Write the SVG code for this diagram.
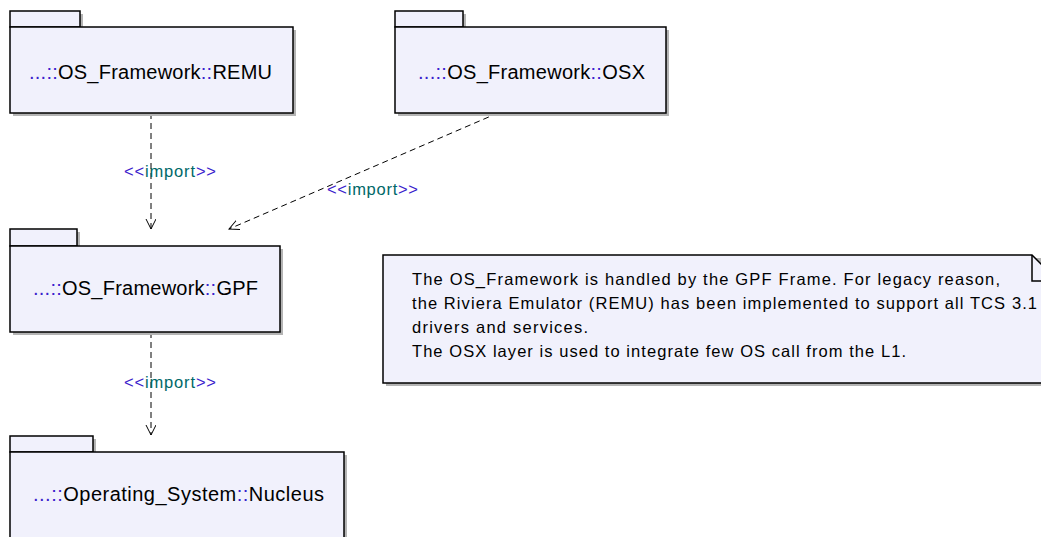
<svg xmlns="http://www.w3.org/2000/svg" width="1041" height="537" viewBox="0 0 1041 537">
<style>
.sh{fill:#b4b4b4;stroke:none}
.pk{fill:#f1f1fc;stroke:#000;stroke-width:1.5}
.lbl{font-family:"Liberation Sans",Arial,sans-serif;font-size:20px;fill:#000}
.q{fill:#3a22cc}
.imp{font-family:"Liberation Sans",Arial,sans-serif;font-size:16.5px;fill:#3a22cc}
.t{fill:#006868}
.note{font-family:"Liberation Sans",Arial,sans-serif;font-size:16.5px;fill:#000}
.dep{fill:none;stroke:#000;stroke-width:1;stroke-dasharray:6 4}
</style>
<defs>
<marker id="open" markerWidth="12" markerHeight="12" refX="10" refY="5" orient="auto" markerUnits="userSpaceOnUse" viewBox="0 0 12 12">
<path d="M0,0 L10,5 L0,10" fill="none" stroke="#000" stroke-width="1"/>
</marker>
</defs>
<rect width="1041" height="537" fill="#fff"/>
<g id="connectors">
<line class="dep" x1="151" y1="113" x2="151" y2="229" marker-end="url(#open)"/>
<text class="imp" x="124" y="177" textLength="92" lengthAdjust="spacing">&lt;&lt;<tspan class="t">import</tspan>&gt;&gt;</text>
<line class="dep" x1="498" y1="113" x2="229" y2="229" marker-end="url(#open)"/>
<text class="imp" x="327" y="195" textLength="91" lengthAdjust="spacing">&lt;&lt;<tspan class="t">import</tspan>&gt;&gt;</text>
<line class="dep" x1="151" y1="332" x2="151" y2="435" marker-end="url(#open)"/>
<text class="imp" x="124" y="388" textLength="92" lengthAdjust="spacing">&lt;&lt;<tspan class="t">import</tspan>&gt;&gt;</text>
</g>
<g id="remu">
<rect class="sh" x="13" y="14" width="70" height="16"/>
<rect class="sh" x="13" y="30" width="283" height="86"/>
<rect class="pk" x="10" y="11" width="70" height="16"/>
<rect class="pk" x="10" y="27" width="283" height="86"/>
<text class="lbl" x="29" y="79" textLength="243" lengthAdjust="spacing"><tspan class="q">...::</tspan>OS_Framework<tspan class="q">::</tspan>REMU</text>
</g>
<g id="osx">
<rect class="sh" x="398" y="14" width="68" height="16"/>
<rect class="sh" x="398" y="30" width="271" height="86"/>
<rect class="pk" x="395" y="11" width="68" height="16"/>
<rect class="pk" x="395" y="27" width="271" height="86"/>
<text class="lbl" x="418" y="79" textLength="227" lengthAdjust="spacing"><tspan class="q">...::</tspan>OS_Framework<tspan class="q">::</tspan>OSX</text>
</g>
<g id="gpf">
<rect class="sh" x="13" y="232" width="67" height="17"/>
<rect class="sh" x="13" y="249" width="270" height="86"/>
<rect class="pk" x="10" y="229" width="67" height="17"/>
<rect class="pk" x="10" y="246" width="270" height="86"/>
<text class="lbl" x="33" y="295" textLength="225" lengthAdjust="spacing"><tspan class="q">...::</tspan>OS_Framework<tspan class="q">::</tspan>GPF</text>
</g>
<g id="nucleus">
<rect class="sh" x="13" y="439" width="83" height="16"/>
<rect class="sh" x="13" y="455" width="334" height="100"/>
<rect class="pk" x="10" y="436" width="83" height="16"/>
<rect class="pk" x="10" y="452" width="334" height="100"/>
<text class="lbl" x="33" y="501" textLength="291" lengthAdjust="spacing"><tspan class="q">...::</tspan>Operating_System<tspan class="q">::</tspan>Nucleus</text>
</g>
<g id="note">
<rect class="sh" x="386" y="258" width="680" height="128"/>
<path class="pk" d="M383,255 L1032,255 L1060,283 L1060,383 L383,383 Z"/>
<path d="M1032,255 L1032,281 L1060,281" fill="none" stroke="#000" stroke-width="1.5"/>
<text class="note" x="412" y="285" textLength="588" lengthAdjust="spacing">The OS_Framework is handled by the GPF Frame. For legacy reason,</text>
<text class="note" x="412" y="309" textLength="625" lengthAdjust="spacing">the Riviera Emulator (REMU) has been implemented to support all TCS 3.1</text>
<text class="note" x="412" y="333" textLength="176" lengthAdjust="spacing">drivers and services.</text>
<text class="note" x="412" y="357" textLength="494" lengthAdjust="spacing">The OSX layer is used to integrate few OS call from the L1.</text>
</g>
</svg>
